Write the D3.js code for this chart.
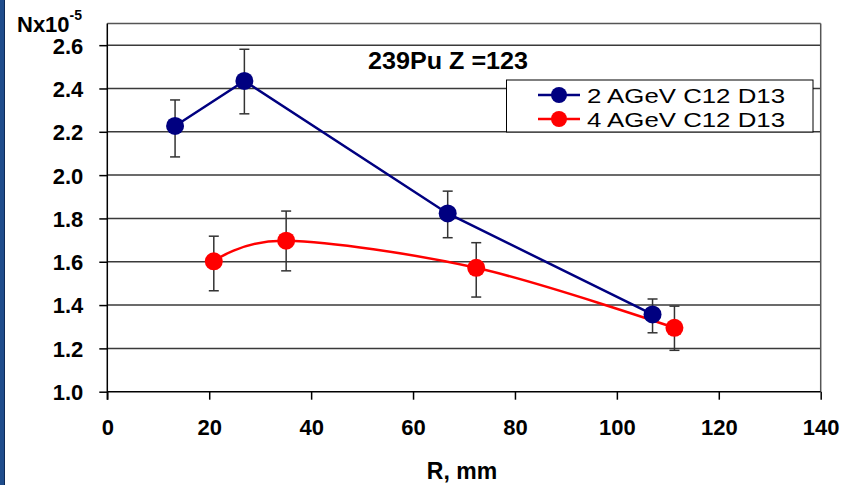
<!DOCTYPE html>
<html>
<head>
<meta charset="utf-8">
<script src="https://cdn.jsdelivr.net/npm/d3@7"></script>
<style>
  html, body { margin: 0; padding: 0; background: #fff; }
  svg { display: block; font-family: "Liberation Sans", Arial, sans-serif; }
</style>
</head>
<body>
<svg id="chart" width="845" height="485"></svg>
<script>
// ---- data ----
const seriesNames = ["2 AGeV C12 D13", "4 AGeV C12 D13"];
const blueR   = [13.3, 26.9, 66.8, 107.0];
const blueN   = [2.227, 2.435, 1.823, 1.357];
const blueHi  = [2.347, 2.581, 1.926, 1.428];
const blueLo  = [2.084, 2.283, 1.711, 1.272];
const redR    = [20.9, 35.1, 72.4, 111.3];
const redN    = [1.602, 1.697, 1.572, 1.295];
const redHi   = [1.718, 1.834, 1.688, 1.395];
const redLo   = [1.466, 1.558, 1.437, 1.191];
const xTicks  = [0, 20, 40, 60, 80, 100, 120, 140];
const yTicks  = [1.0, 1.2, 1.4, 1.6, 1.8, 2.0, 2.2, 2.4, 2.6];
const titleText = "239Pu Z =123";
const xLabel = "R, mm";

const svg = d3.select("#chart");
const pLeft = 107.3, pRight = 820.7, pTop = 23.5, pBottom = 391.7;
const x = d3.scaleLinear().domain([0, 140]).range([pLeft, pRight]);
const y = d3.scaleLinear().domain([1.0, 2.7]).range([pBottom, pTop]);

// left blue strip
svg.append("rect").attr("x", 0).attr("y", 0).attr("width", 4).attr("height", 485).attr("fill", "#1f4d8c");
svg.append("line").attr("x1", 4.5).attr("x2", 4.5).attr("y1", 0).attr("y2", 485).attr("stroke", "#0d2a57").attr("stroke-width", 1);

// gridlines
const grid = svg.append("g");
grid.selectAll("line").data(yTicks.filter(d => d > 1.0)).join("line")
  .attr("x1", pLeft).attr("x2", pRight)
  .attr("y1", d => y(d)).attr("y2", d => y(d))
  .attr("stroke", "#3a3a3a").attr("stroke-width", 1.5);
// plot border top & right
svg.append("line").attr("x1", pLeft).attr("x2", pRight).attr("y1", pTop).attr("y2", pTop)
  .attr("stroke", "#555").attr("stroke-width", 1.5);
svg.append("line").attr("x1", pRight).attr("x2", pRight).attr("y1", pTop).attr("y2", pBottom)
  .attr("stroke", "#555").attr("stroke-width", 1.5);

// axes
const yAxis = d3.axisLeft(y).tickValues(yTicks).tickFormat(d3.format(".1f")).tickSize(8).tickPadding(16);
const gy = svg.append("g").attr("transform", `translate(${pLeft},0)`).call(yAxis);
const xAxis = d3.axisBottom(x).tickValues(xTicks).tickFormat(d3.format("d")).tickSize(8).tickPadding(20);
const gx = svg.append("g").attr("transform", `translate(0,${pBottom})`).call(xAxis);
[gx, gy].forEach(g => {
  g.select(".domain").attr("stroke", "#000").attr("stroke-width", 1.5);
  g.selectAll(".tick line").attr("stroke", "#000").attr("stroke-width", 1.5);
  g.selectAll(".tick text").attr("fill", "#000").style("font-size", "22px").style("font-weight", "bold")
    .style("font-family", "'Liberation Sans', Arial, sans-serif");
});
gx.select(".domain").attr("d", `M${pLeft},0H${pRight}`);
gy.select(".domain").attr("d", `M0,${pBottom + 8}V${pTop}`);
gy.selectAll(".tick text").attr("dy", "0.36em");
gx.selectAll(".tick text").attr("dy", "0.71em");

// error bars
function errorBars(R, hi, lo) {
  const g = svg.append("g");
  const idx = d3.range(R.length);
  g.selectAll(".v").data(idx).join("line")
    .attr("x1", i => x(R[i])).attr("x2", i => x(R[i]))
    .attr("y1", i => y(hi[i])).attr("y2", i => y(lo[i]))
    .attr("stroke", "#333").attr("stroke-width", 1.5);
  [hi, lo].forEach(arr => {
    g.selectAll(null).data(idx).join("line")
      .attr("x1", i => x(R[i]) - 5).attr("x2", i => x(R[i]) + 5)
      .attr("y1", i => y(arr[i])).attr("y2", i => y(arr[i]))
      .attr("stroke", "#333").attr("stroke-width", 1.5);
  });
}
errorBars(blueR, blueHi, blueLo);
errorBars(redR, redHi, redLo);

// lines
const blueLine = d3.line().x(i => x(blueR[i])).y(i => y(blueN[i]));
const redLine = d3.line().x(i => x(redR[i])).y(i => y(redN[i])).curve(d3.curveCatmullRom.alpha(0));
svg.append("path").attr("d", redLine(d3.range(redR.length)))
  .attr("fill", "none").attr("stroke", "#ff0000").attr("stroke-width", 2.5);
svg.append("path").attr("d", blueLine(d3.range(blueR.length)))
  .attr("fill", "none").attr("stroke", "#000080").attr("stroke-width", 2.5);

// markers
svg.append("g").selectAll("circle").data(d3.range(blueR.length)).join("circle")
  .attr("cx", i => x(blueR[i])).attr("cy", i => y(blueN[i])).attr("r", 9).attr("fill", "#000080");
svg.append("g").selectAll("circle").data(d3.range(redR.length)).join("circle")
  .attr("cx", i => x(redR[i])).attr("cy", i => y(redN[i])).attr("r", 9).attr("fill", "#ff0000");

// title
svg.append("text").attr("x", 368).attr("y", 69).text(titleText)
  .attr("textLength", 160).attr("lengthAdjust", "spacingAndGlyphs")
  .style("font-size", "24px").style("font-weight", "bold").attr("fill", "#000");

// y label
const yl = svg.append("text").attr("x", 17).attr("y", 32).style("font-weight", "bold").attr("fill", "#000");
yl.append("tspan").text("Nx10").style("font-size", "22px");
yl.append("tspan").text("-5").attr("dy", -12).style("font-size", "14px");

// x label
svg.append("text").attr("x", 462).attr("y", 479).attr("text-anchor", "middle").text(xLabel)
  .style("font-size", "23px").style("font-weight", "bold").attr("fill", "#000");

// legend
const lg = svg.append("g");
lg.append("rect").attr("x", 506.5).attr("y", 80).attr("width", 306.5).attr("height", 52)
  .attr("fill", "#fff").attr("stroke", "#000").attr("stroke-width", 1);
const colors = ["#000080", "#ff0000"];
const rowsY = [95, 119];
seriesNames.forEach((name, i) => {
  lg.append("line").attr("x1", 538).attr("x2", 580).attr("y1", rowsY[i]).attr("y2", rowsY[i])
    .attr("stroke", colors[i]).attr("stroke-width", 2.5);
  lg.append("circle").attr("cx", 559).attr("cy", rowsY[i]).attr("r", 8).attr("fill", colors[i]);
  lg.append("text").attr("x", 587).attr("y", rowsY[i] + 7.5).text(name)
    .attr("textLength", 198).attr("lengthAdjust", "spacingAndGlyphs")
    .style("font-size", "20px").attr("fill", "#000");
});
</script>
</body>
</html>
